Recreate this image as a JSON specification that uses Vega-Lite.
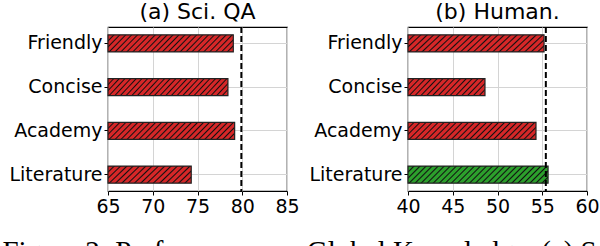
{
  "$schema": "https://vega.github.io/schema/vega-lite/v6.json",
  "background": "white",
  "padding": {"left": 2, "top": 0, "right": 4, "bottom": 0},
  "spacing": 8,
  "config": {
    "font": "DejaVu Sans",
    "view": {"stroke": "black", "strokeWidth": 1.2},
    "axis": {"labelFont": "DejaVu Sans", "labelFontSize": 19, "labelColor": "black", "tickColor": "black", "tickSize": 4, "labelPadding": 2, "domain": false, "gridColor": "#d4d4d4", "gridWidth": 1, "title": null, "labelFlush": false},
    "title": {"font": "DejaVu Sans", "fontSize": 22, "fontWeight": "normal", "color": "black", "offset": 2}
  },
  "datasets": {
    "sci": [
      {"style": "Friendly", "score": 79.0},
      {"style": "Concise", "score": 78.4},
      {"style": "Academy", "score": 79.15},
      {"style": "Literature", "score": 74.3}
    ],
    "hum": [
      {"style": "Friendly", "score": 55.2},
      {"style": "Concise", "score": 48.6},
      {"style": "Academy", "score": 54.3},
      {"style": "Literature", "score": 55.65}
    ],
    "sciRef": [{"ref": 79.9}],
    "humRef": [{"ref": 55.4}]
  },
  "title": {"text": "Figure 2: Performance on Global Knowledge. (a) Sci. QA", "orient": "bottom", "anchor": "start", "font": "Liberation Serif", "fontSize": 29, "fontWeight": "normal", "color": "black", "offset": 21},
  "hconcat": [
    {
      "width": 179, "height": 164,
      "title": {"text": "(a) Sci. QA"},
      "layer": [
        {
          "data": {"name": "sci"},
          "mark": {"type": "bar", "stroke": "#222", "strokeWidth": 1.2},
          "encoding": {
            "y": {"field": "style", "type": "nominal", "sort": null, "scale": {"paddingInner": 0.61, "paddingOuter": 0.18}, "axis": {"grid": true, "bandPosition": 0.5, "minExtent": 105}},
            "x": {"field": "score", "type": "quantitative", "scale": {"domain": [65, 85], "nice": false, "zero": false}, "axis": {"values": [65, 70, 75, 80, 85], "grid": true}},
            "x2": {"datum": 65},
            "fill": {
              "condition": {"test": "datum.style === 'Literature'", "value": {"gradient": "linear", "x1": 0, "y1": 0, "x2": 1.1601, "y2": 0.2465, "stops": [
                {"offset": 0, "color": "#d62728"},
                {"offset": 0.0475, "color": "#d62728"}, {"offset": 0.0625, "color": "#111"}, {"offset": 0.0775, "color": "#d62728"},
                {"offset": 0.11, "color": "#d62728"}, {"offset": 0.125, "color": "#111"}, {"offset": 0.14, "color": "#d62728"},
                {"offset": 0.1725, "color": "#d62728"}, {"offset": 0.1875, "color": "#111"}, {"offset": 0.2025, "color": "#d62728"},
                {"offset": 0.235, "color": "#d62728"}, {"offset": 0.25, "color": "#111"}, {"offset": 0.265, "color": "#d62728"},
                {"offset": 0.2975, "color": "#d62728"}, {"offset": 0.3125, "color": "#111"}, {"offset": 0.3275, "color": "#d62728"},
                {"offset": 0.36, "color": "#d62728"}, {"offset": 0.375, "color": "#111"}, {"offset": 0.39, "color": "#d62728"},
                {"offset": 0.4225, "color": "#d62728"}, {"offset": 0.4375, "color": "#111"}, {"offset": 0.4525, "color": "#d62728"},
                {"offset": 0.485, "color": "#d62728"}, {"offset": 0.5, "color": "#111"}, {"offset": 0.515, "color": "#d62728"},
                {"offset": 0.5475, "color": "#d62728"}, {"offset": 0.5625, "color": "#111"}, {"offset": 0.5775, "color": "#d62728"},
                {"offset": 0.61, "color": "#d62728"}, {"offset": 0.625, "color": "#111"}, {"offset": 0.64, "color": "#d62728"},
                {"offset": 0.6725, "color": "#d62728"}, {"offset": 0.6875, "color": "#111"}, {"offset": 0.7025, "color": "#d62728"},
                {"offset": 0.735, "color": "#d62728"}, {"offset": 0.75, "color": "#111"}, {"offset": 0.765, "color": "#d62728"},
                {"offset": 0.7975, "color": "#d62728"}, {"offset": 0.8125, "color": "#111"}, {"offset": 0.8275, "color": "#d62728"},
                {"offset": 0.86, "color": "#d62728"}, {"offset": 0.875, "color": "#111"}, {"offset": 0.89, "color": "#d62728"},
                {"offset": 0.9225, "color": "#d62728"}, {"offset": 0.9375, "color": "#111"}, {"offset": 0.9525, "color": "#d62728"},
                {"offset": 1, "color": "#d62728"}
              ]}},
              "value": {"gradient": "linear", "x1": 0, "y1": 0, "x2": 1.113, "y2": 0.148, "stops": [
                {"offset": 0, "color": "#d62728"},
                {"offset": 0.032, "color": "#d62728"}, {"offset": 0.042, "color": "#111"}, {"offset": 0.052, "color": "#d62728"},
                {"offset": 0.073, "color": "#d62728"}, {"offset": 0.083, "color": "#111"}, {"offset": 0.093, "color": "#d62728"},
                {"offset": 0.115, "color": "#d62728"}, {"offset": 0.125, "color": "#111"}, {"offset": 0.135, "color": "#d62728"},
                {"offset": 0.157, "color": "#d62728"}, {"offset": 0.167, "color": "#111"}, {"offset": 0.177, "color": "#d62728"},
                {"offset": 0.198, "color": "#d62728"}, {"offset": 0.208, "color": "#111"}, {"offset": 0.218, "color": "#d62728"},
                {"offset": 0.24, "color": "#d62728"}, {"offset": 0.25, "color": "#111"}, {"offset": 0.26, "color": "#d62728"},
                {"offset": 0.282, "color": "#d62728"}, {"offset": 0.292, "color": "#111"}, {"offset": 0.302, "color": "#d62728"},
                {"offset": 0.323, "color": "#d62728"}, {"offset": 0.333, "color": "#111"}, {"offset": 0.343, "color": "#d62728"},
                {"offset": 0.365, "color": "#d62728"}, {"offset": 0.375, "color": "#111"}, {"offset": 0.385, "color": "#d62728"},
                {"offset": 0.407, "color": "#d62728"}, {"offset": 0.417, "color": "#111"}, {"offset": 0.427, "color": "#d62728"},
                {"offset": 0.448, "color": "#d62728"}, {"offset": 0.458, "color": "#111"}, {"offset": 0.468, "color": "#d62728"},
                {"offset": 0.49, "color": "#d62728"}, {"offset": 0.5, "color": "#111"}, {"offset": 0.51, "color": "#d62728"},
                {"offset": 0.532, "color": "#d62728"}, {"offset": 0.542, "color": "#111"}, {"offset": 0.552, "color": "#d62728"},
                {"offset": 0.573, "color": "#d62728"}, {"offset": 0.583, "color": "#111"}, {"offset": 0.593, "color": "#d62728"},
                {"offset": 0.615, "color": "#d62728"}, {"offset": 0.625, "color": "#111"}, {"offset": 0.635, "color": "#d62728"},
                {"offset": 0.657, "color": "#d62728"}, {"offset": 0.667, "color": "#111"}, {"offset": 0.677, "color": "#d62728"},
                {"offset": 0.698, "color": "#d62728"}, {"offset": 0.708, "color": "#111"}, {"offset": 0.718, "color": "#d62728"},
                {"offset": 0.74, "color": "#d62728"}, {"offset": 0.75, "color": "#111"}, {"offset": 0.76, "color": "#d62728"},
                {"offset": 0.782, "color": "#d62728"}, {"offset": 0.792, "color": "#111"}, {"offset": 0.802, "color": "#d62728"},
                {"offset": 0.823, "color": "#d62728"}, {"offset": 0.833, "color": "#111"}, {"offset": 0.843, "color": "#d62728"},
                {"offset": 0.865, "color": "#d62728"}, {"offset": 0.875, "color": "#111"}, {"offset": 0.885, "color": "#d62728"},
                {"offset": 0.907, "color": "#d62728"}, {"offset": 0.917, "color": "#111"}, {"offset": 0.927, "color": "#d62728"},
                {"offset": 0.948, "color": "#d62728"}, {"offset": 0.958, "color": "#111"}, {"offset": 0.968, "color": "#d62728"},
                {"offset": 1, "color": "#d62728"}
              ]}
            }
          }
        },
        {
          "data": {"name": "sciRef"},
          "mark": {"type": "rule", "color": "black", "strokeWidth": 2, "strokeDash": [6, 3]},
          "encoding": {"x": {"field": "ref", "type": "quantitative"}}
        }
      ]
    },
    {
      "width": 179, "height": 164,
      "title": {"text": "(b) Human."},
      "layer": [
        {
          "data": {"name": "hum"},
          "mark": {"type": "bar", "stroke": "#222", "strokeWidth": 1.2},
          "encoding": {
            "y": {"field": "style", "type": "nominal", "sort": null, "scale": {"paddingInner": 0.61, "paddingOuter": 0.18}, "axis": {"grid": true, "bandPosition": 0.5}},
            "x": {"field": "score", "type": "quantitative", "scale": {"domain": [40, 60], "nice": false, "zero": false}, "axis": {"values": [40, 45, 50, 55, 60], "grid": true}},
            "x2": {"datum": 40},
            "fill": {
              "condition": [
                {"test": "datum.style === 'Concise'", "value": {"gradient": "linear", "x1": 0, "y1": 0, "x2": 1.1601, "y2": 0.2465, "stops": [
                  {"offset": 0, "color": "#d62728"},
                  {"offset": 0.0475, "color": "#d62728"}, {"offset": 0.0625, "color": "#111"}, {"offset": 0.0775, "color": "#d62728"},
                  {"offset": 0.11, "color": "#d62728"}, {"offset": 0.125, "color": "#111"}, {"offset": 0.14, "color": "#d62728"},
                  {"offset": 0.1725, "color": "#d62728"}, {"offset": 0.1875, "color": "#111"}, {"offset": 0.2025, "color": "#d62728"},
                  {"offset": 0.235, "color": "#d62728"}, {"offset": 0.25, "color": "#111"}, {"offset": 0.265, "color": "#d62728"},
                  {"offset": 0.2975, "color": "#d62728"}, {"offset": 0.3125, "color": "#111"}, {"offset": 0.3275, "color": "#d62728"},
                  {"offset": 0.36, "color": "#d62728"}, {"offset": 0.375, "color": "#111"}, {"offset": 0.39, "color": "#d62728"},
                  {"offset": 0.4225, "color": "#d62728"}, {"offset": 0.4375, "color": "#111"}, {"offset": 0.4525, "color": "#d62728"},
                  {"offset": 0.485, "color": "#d62728"}, {"offset": 0.5, "color": "#111"}, {"offset": 0.515, "color": "#d62728"},
                  {"offset": 0.5475, "color": "#d62728"}, {"offset": 0.5625, "color": "#111"}, {"offset": 0.5775, "color": "#d62728"},
                  {"offset": 0.61, "color": "#d62728"}, {"offset": 0.625, "color": "#111"}, {"offset": 0.64, "color": "#d62728"},
                  {"offset": 0.6725, "color": "#d62728"}, {"offset": 0.6875, "color": "#111"}, {"offset": 0.7025, "color": "#d62728"},
                  {"offset": 0.735, "color": "#d62728"}, {"offset": 0.75, "color": "#111"}, {"offset": 0.765, "color": "#d62728"},
                  {"offset": 0.7975, "color": "#d62728"}, {"offset": 0.8125, "color": "#111"}, {"offset": 0.8275, "color": "#d62728"},
                  {"offset": 0.86, "color": "#d62728"}, {"offset": 0.875, "color": "#111"}, {"offset": 0.89, "color": "#d62728"},
                  {"offset": 0.9225, "color": "#d62728"}, {"offset": 0.9375, "color": "#111"}, {"offset": 0.9525, "color": "#d62728"},
                  {"offset": 1, "color": "#d62728"}
                ]}},
                {"test": "datum.style === 'Literature'", "value": {"gradient": "linear", "x1": 0, "y1": 0, "x2": 1.1051, "y2": 0.1342, "stops": [
                  {"offset": 0, "color": "#2ca02c"},
                  {"offset": 0.029, "color": "#2ca02c"}, {"offset": 0.0385, "color": "#111"}, {"offset": 0.048, "color": "#2ca02c"},
                  {"offset": 0.0674, "color": "#2ca02c"}, {"offset": 0.0769, "color": "#111"}, {"offset": 0.0864, "color": "#2ca02c"},
                  {"offset": 0.1059, "color": "#2ca02c"}, {"offset": 0.1154, "color": "#111"}, {"offset": 0.1249, "color": "#2ca02c"},
                  {"offset": 0.1443, "color": "#2ca02c"}, {"offset": 0.1538, "color": "#111"}, {"offset": 0.1633, "color": "#2ca02c"},
                  {"offset": 0.1828, "color": "#2ca02c"}, {"offset": 0.1923, "color": "#111"}, {"offset": 0.2018, "color": "#2ca02c"},
                  {"offset": 0.2213, "color": "#2ca02c"}, {"offset": 0.2308, "color": "#111"}, {"offset": 0.2403, "color": "#2ca02c"},
                  {"offset": 0.2597, "color": "#2ca02c"}, {"offset": 0.2692, "color": "#111"}, {"offset": 0.2787, "color": "#2ca02c"},
                  {"offset": 0.2982, "color": "#2ca02c"}, {"offset": 0.3077, "color": "#111"}, {"offset": 0.3172, "color": "#2ca02c"},
                  {"offset": 0.3367, "color": "#2ca02c"}, {"offset": 0.3462, "color": "#111"}, {"offset": 0.3557, "color": "#2ca02c"},
                  {"offset": 0.3751, "color": "#2ca02c"}, {"offset": 0.3846, "color": "#111"}, {"offset": 0.3941, "color": "#2ca02c"},
                  {"offset": 0.4136, "color": "#2ca02c"}, {"offset": 0.4231, "color": "#111"}, {"offset": 0.4326, "color": "#2ca02c"},
                  {"offset": 0.452, "color": "#2ca02c"}, {"offset": 0.4615, "color": "#111"}, {"offset": 0.471, "color": "#2ca02c"},
                  {"offset": 0.4905, "color": "#2ca02c"}, {"offset": 0.5, "color": "#111"}, {"offset": 0.5095, "color": "#2ca02c"},
                  {"offset": 0.529, "color": "#2ca02c"}, {"offset": 0.5385, "color": "#111"}, {"offset": 0.548, "color": "#2ca02c"},
                  {"offset": 0.5674, "color": "#2ca02c"}, {"offset": 0.5769, "color": "#111"}, {"offset": 0.5864, "color": "#2ca02c"},
                  {"offset": 0.6059, "color": "#2ca02c"}, {"offset": 0.6154, "color": "#111"}, {"offset": 0.6249, "color": "#2ca02c"},
                  {"offset": 0.6443, "color": "#2ca02c"}, {"offset": 0.6538, "color": "#111"}, {"offset": 0.6633, "color": "#2ca02c"},
                  {"offset": 0.6828, "color": "#2ca02c"}, {"offset": 0.6923, "color": "#111"}, {"offset": 0.7018, "color": "#2ca02c"},
                  {"offset": 0.7213, "color": "#2ca02c"}, {"offset": 0.7308, "color": "#111"}, {"offset": 0.7403, "color": "#2ca02c"},
                  {"offset": 0.7597, "color": "#2ca02c"}, {"offset": 0.7692, "color": "#111"}, {"offset": 0.7787, "color": "#2ca02c"},
                  {"offset": 0.7982, "color": "#2ca02c"}, {"offset": 0.8077, "color": "#111"}, {"offset": 0.8172, "color": "#2ca02c"},
                  {"offset": 0.8367, "color": "#2ca02c"}, {"offset": 0.8462, "color": "#111"}, {"offset": 0.8557, "color": "#2ca02c"},
                  {"offset": 0.8751, "color": "#2ca02c"}, {"offset": 0.8846, "color": "#111"}, {"offset": 0.8941, "color": "#2ca02c"},
                  {"offset": 0.9136, "color": "#2ca02c"}, {"offset": 0.9231, "color": "#111"}, {"offset": 0.9326, "color": "#2ca02c"},
                  {"offset": 0.952, "color": "#2ca02c"}, {"offset": 0.9615, "color": "#111"}, {"offset": 0.971, "color": "#2ca02c"},
                  {"offset": 1, "color": "#2ca02c"}
                ]}}
              ],
              "value": {"gradient": "linear", "x1": 0, "y1": 0, "x2": 1.113, "y2": 0.148, "stops": [
                {"offset": 0, "color": "#d62728"},
                {"offset": 0.032, "color": "#d62728"}, {"offset": 0.042, "color": "#111"}, {"offset": 0.052, "color": "#d62728"},
                {"offset": 0.073, "color": "#d62728"}, {"offset": 0.083, "color": "#111"}, {"offset": 0.093, "color": "#d62728"},
                {"offset": 0.115, "color": "#d62728"}, {"offset": 0.125, "color": "#111"}, {"offset": 0.135, "color": "#d62728"},
                {"offset": 0.157, "color": "#d62728"}, {"offset": 0.167, "color": "#111"}, {"offset": 0.177, "color": "#d62728"},
                {"offset": 0.198, "color": "#d62728"}, {"offset": 0.208, "color": "#111"}, {"offset": 0.218, "color": "#d62728"},
                {"offset": 0.24, "color": "#d62728"}, {"offset": 0.25, "color": "#111"}, {"offset": 0.26, "color": "#d62728"},
                {"offset": 0.282, "color": "#d62728"}, {"offset": 0.292, "color": "#111"}, {"offset": 0.302, "color": "#d62728"},
                {"offset": 0.323, "color": "#d62728"}, {"offset": 0.333, "color": "#111"}, {"offset": 0.343, "color": "#d62728"},
                {"offset": 0.365, "color": "#d62728"}, {"offset": 0.375, "color": "#111"}, {"offset": 0.385, "color": "#d62728"},
                {"offset": 0.407, "color": "#d62728"}, {"offset": 0.417, "color": "#111"}, {"offset": 0.427, "color": "#d62728"},
                {"offset": 0.448, "color": "#d62728"}, {"offset": 0.458, "color": "#111"}, {"offset": 0.468, "color": "#d62728"},
                {"offset": 0.49, "color": "#d62728"}, {"offset": 0.5, "color": "#111"}, {"offset": 0.51, "color": "#d62728"},
                {"offset": 0.532, "color": "#d62728"}, {"offset": 0.542, "color": "#111"}, {"offset": 0.552, "color": "#d62728"},
                {"offset": 0.573, "color": "#d62728"}, {"offset": 0.583, "color": "#111"}, {"offset": 0.593, "color": "#d62728"},
                {"offset": 0.615, "color": "#d62728"}, {"offset": 0.625, "color": "#111"}, {"offset": 0.635, "color": "#d62728"},
                {"offset": 0.657, "color": "#d62728"}, {"offset": 0.667, "color": "#111"}, {"offset": 0.677, "color": "#d62728"},
                {"offset": 0.698, "color": "#d62728"}, {"offset": 0.708, "color": "#111"}, {"offset": 0.718, "color": "#d62728"},
                {"offset": 0.74, "color": "#d62728"}, {"offset": 0.75, "color": "#111"}, {"offset": 0.76, "color": "#d62728"},
                {"offset": 0.782, "color": "#d62728"}, {"offset": 0.792, "color": "#111"}, {"offset": 0.802, "color": "#d62728"},
                {"offset": 0.823, "color": "#d62728"}, {"offset": 0.833, "color": "#111"}, {"offset": 0.843, "color": "#d62728"},
                {"offset": 0.865, "color": "#d62728"}, {"offset": 0.875, "color": "#111"}, {"offset": 0.885, "color": "#d62728"},
                {"offset": 0.907, "color": "#d62728"}, {"offset": 0.917, "color": "#111"}, {"offset": 0.927, "color": "#d62728"},
                {"offset": 0.948, "color": "#d62728"}, {"offset": 0.958, "color": "#111"}, {"offset": 0.968, "color": "#d62728"},
                {"offset": 1, "color": "#d62728"}
              ]}
            }
          }
        },
        {
          "data": {"name": "humRef"},
          "mark": {"type": "rule", "color": "black", "strokeWidth": 2, "strokeDash": [6, 3]},
          "encoding": {"x": {"field": "ref", "type": "quantitative"}}
        }
      ]
    }
  ]
}
